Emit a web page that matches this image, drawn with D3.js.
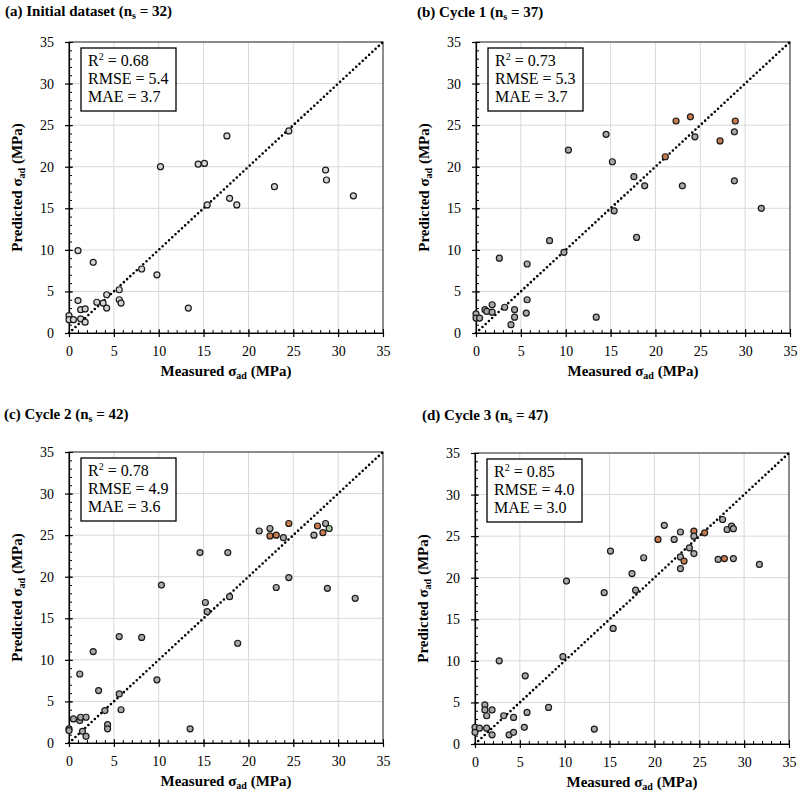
<!DOCTYPE html>
<html>
<head>
<meta charset="utf-8">
<script src="https://cdn.jsdelivr.net/npm/d3@7"></script>
<style>
  body { margin: 0; background: #fff; }
  svg text { font-family: "Liberation Serif", "DejaVu Serif", serif; }
</style>
</head>
<body>
<div id="chart"></div>
<script>
// Panel (a) – initial dataset
const aMeasured = [1.0, 2.7, 8.1, 9.8, 5.6, 5.6, 5.8, 4.2, 4.2, 3.8, 3.1, 1.0, 1.3, 1.8, 1.3, 1.8, 0, 0, 0.5, 13.3, 10.2, 14.4, 15.1, 17.6, 24.5, 15.4, 17.9, 18.7, 22.9, 28.6, 28.7, 31.7];
const aPredicted = [9.9, 8.5, 7.7, 7.0, 5.2, 4.0, 3.6, 4.6, 3.0, 3.6, 3.7, 3.9, 2.8, 2.9, 1.7, 1.3, 2.1, 1.6, 1.6, 3.0, 20.0, 20.3, 20.4, 23.7, 24.3, 15.4, 16.2, 15.4, 17.6, 19.6, 18.4, 16.5];

// Panel (b) – cycle 1
const bMeasured = [0, 0, 0.4, 1.0, 1.2, 1.8, 1.8, 3.2, 3.9, 4.3, 4.3, 5.6, 5.7, 5.7, 2.6, 8.2, 9.8, 13.4, 10.3, 14.5, 15.2, 15.4, 17.6, 18.8, 17.9, 21.1, 22.3, 23.9, 24.4, 23.0, 27.2, 28.8, 28.9, 28.8, 31.8];
const bPredicted = [2.3, 1.8, 1.8, 2.8, 2.6, 2.5, 3.4, 3.1, 1.0, 2.8, 1.9, 2.4, 4.0, 8.3, 9.0, 11.1, 9.7, 1.9, 22.0, 23.9, 20.6, 14.7, 18.8, 17.7, 11.5, 21.2, 25.5, 26.0, 23.6, 17.7, 23.1, 24.2, 25.5, 18.3, 15.0];
const bNew = [25, 26, 27, 30, 32];

// Panel (c) – cycle 2
const cMeasured = [0, 0, 0.5, 1.2, 1.3, 1.9, 1.5, 1.9, 1.2, 2.7, 3.3, 4.0, 4.3, 4.3, 5.6, 5.8, 5.6, 8.1, 9.8, 13.5, 10.3, 14.6, 15.2, 15.4, 17.7, 17.9, 18.8, 21.2, 22.4, 22.4, 23.1, 23.9, 24.5, 24.5, 23.1, 27.3, 27.7, 28.3, 28.6, 29.0, 28.8, 31.9];
const cPredicted = [1.7, 1.5, 2.9, 2.7, 3.1, 3.1, 1.4, 0.8, 8.3, 11.0, 6.3, 3.9, 2.2, 1.7, 5.9, 4.0, 12.8, 12.7, 7.6, 1.7, 19.0, 22.9, 16.9, 15.8, 22.9, 17.6, 12.0, 25.5, 25.8, 24.9, 25.0, 24.7, 26.4, 19.9, 18.7, 25.0, 26.1, 25.3, 26.4, 25.8, 18.6, 17.4];
const cNew = [29, 30, 32, 36, 37];
const cOther = [39];

// Panel (d) – cycle 3
const dMeasured = [0, 0, 0.5, 1.1, 1.1, 1.3, 1.3, 1.9, 1.9, 2.7, 3.2, 3.8, 4.3, 4.3, 5.5, 5.8, 5.6, 8.2, 9.8, 13.3, 10.2, 14.4, 15.1, 15.4, 17.5, 17.9, 18.8, 20.4, 21.1, 22.2, 22.9, 22.9, 22.9, 23.3, 23.9, 24.4, 24.4, 24.4, 25.6, 27.1, 27.8, 27.6, 28.1, 28.6, 28.8, 28.8, 31.7];
const dPredicted = [2.0, 1.4, 1.9, 4.7, 4.1, 3.4, 1.9, 4.1, 1.1, 10.0, 3.4, 1.1, 1.4, 3.2, 2.0, 3.8, 8.2, 4.4, 10.5, 1.8, 19.6, 18.2, 23.2, 13.9, 20.5, 18.5, 22.4, 24.6, 26.3, 24.6, 25.5, 22.5, 21.1, 22.0, 23.6, 25.6, 25.0, 22.9, 25.4, 22.2, 22.3, 27.0, 25.8, 26.2, 25.9, 22.3, 21.6];
const dNew = [27, 33, 35, 38, 40];

// Titles and metrics
const panelLetters = ["(a) Initial dataset", "(b) Cycle 1", "(c) Cycle 2", "(d) Cycle 3"];
const sampleCounts = [32, 37, 42, 47];
const r2Values = ["0.68", "0.73", "0.78", "0.85"];
const rmseValues = ["5.4", "5.3", "4.9", "4.0"];
const maeValues = ["3.7", "3.7", "3.6", "3.0"];
const tickValues = [0, 5, 10, 15, 20, 25, 30, 35];

const WIDTH = 800;
const HEIGHT = 791;
const PLOT_W = 314;
const PLOT_H = 291;
const FONT = "Liberation Serif, DejaVu Serif, serif";

const svg = d3
  .select("#chart")
  .append("svg")
  .attr("width", WIDTH)
  .attr("height", HEIGHT)
  .attr("font-family", FONT);

// Layout of the four panels
const panels = [
  { left: 69, top: 42, titleX: 5, titleY: 16, xs: aMeasured, ys: aPredicted, orange: [], green: [], fill: "#d4d4d4" },
  { left: 476, top: 42, titleX: 417, titleY: 17, xs: bMeasured, ys: bPredicted, orange: bNew, green: [], fill: "#a9a9a9" },
  { left: 69, top: 452, titleX: 4, titleY: 419, xs: cMeasured, ys: cPredicted, orange: cNew, green: cOther, fill: "#a9a9a9" },
  { left: 475, top: 453, titleX: 422, titleY: 420, xs: dMeasured, ys: dPredicted, orange: dNew, green: [], fill: "#a9a9a9" },
];

function drawPanel(p, i) {
  const x = d3.scaleLinear().domain([0, 35]).range([p.left, p.left + PLOT_W]);
  const y = d3.scaleLinear().domain([0, 35]).range([p.top + PLOT_H, p.top]);
  const g = svg.append("g");

  // title
  const title = g
    .append("text")
    .attr("x", p.titleX)
    .attr("y", p.titleY)
    .attr("font-family", FONT)
    .attr("font-size", 15)
    .attr("font-weight", "bold");
  title.append("tspan").text(panelLetters[i] + " (n");
  title.append("tspan").attr("font-size", 10).attr("dy", 3).text("s");
  title.append("tspan").attr("dy", -3).text(" = " + sampleCounts[i] + ")");

  // grid
  const inner = tickValues.slice(1, -1);
  g.selectAll(".vgrid")
    .data(inner)
    .enter()
    .append("line")
    .attr("x1", (d) => x(d))
    .attr("x2", (d) => x(d))
    .attr("y1", y(0))
    .attr("y2", y(35))
    .attr("stroke", "#d9d9d9")
    .attr("stroke-width", 1);
  g.selectAll(".hgrid")
    .data(inner)
    .enter()
    .append("line")
    .attr("x1", x(0))
    .attr("x2", x(35))
    .attr("y1", (d) => y(d))
    .attr("y2", (d) => y(d))
    .attr("stroke", "#d9d9d9")
    .attr("stroke-width", 1);

  // frame
  g.append("rect")
    .attr("x", x(0))
    .attr("y", y(35))
    .attr("width", PLOT_W)
    .attr("height", PLOT_H)
    .attr("fill", "none")
    .attr("stroke", "#404040")
    .attr("stroke-width", 1.2);

  // minor ticks (inside)
  const minor = d3.range(0, 36);
  g.append("g")
    .attr("transform", `translate(0,${y(0)})`)
    .call(d3.axisBottom(x).tickValues(minor).tickSize(-3).tickFormat("").tickSizeOuter(0))
    .call((s) => s.select(".domain").remove());
  g.append("g")
    .attr("transform", `translate(${x(0)},0)`)
    .call(d3.axisLeft(y).tickValues(minor).tickSize(-3).tickFormat("").tickSizeOuter(0))
    .call((s) => s.select(".domain").remove());
  // major ticks inside part
  g.append("g")
    .attr("transform", `translate(0,${y(0)})`)
    .call(d3.axisBottom(x).tickValues(tickValues).tickSize(-4).tickFormat("").tickSizeOuter(0))
    .call((s) => s.select(".domain").remove());
  g.append("g")
    .attr("transform", `translate(${x(0)},0)`)
    .call(d3.axisLeft(y).tickValues(tickValues).tickSize(-4).tickFormat("").tickSizeOuter(0))
    .call((s) => s.select(".domain").remove());

  // main axes with labels
  const xAxis = g
    .append("g")
    .attr("transform", `translate(0,${y(0)})`)
    .call(d3.axisBottom(x).tickValues(tickValues).tickSize(4).tickPadding(9).tickSizeOuter(0));
  const yAxis = g
    .append("g")
    .attr("transform", `translate(${x(0)},0)`)
    .call(d3.axisLeft(y).tickValues(tickValues).tickSize(4).tickPadding(11).tickSizeOuter(0));
  [xAxis, yAxis].forEach((a) => {
    a.attr("font-family", FONT).attr("font-size", 14);
    a.selectAll("text").attr("fill", "#000");
    a.selectAll("line, path").attr("stroke", "#000").attr("stroke-width", 1.2);
  });
  g.selectAll(".tick line").attr("stroke", "#000");

  // 1:1 line
  g.append("line")
    .attr("x1", x(0))
    .attr("y1", y(0))
    .attr("x2", x(35))
    .attr("y2", y(35))
    .attr("stroke", "#000")
    .attr("stroke-width", 2.6)
    .attr("stroke-linecap", "round")
    .attr("stroke-dasharray", "0 4.4");

  // points
  const data = p.xs.map((v, k) => ({
    m: v,
    p: p.ys[k],
    color: p.orange.includes(k) ? "#c97c4e" : p.green.includes(k) ? "#a9c9a4" : p.fill,
  }));
  g.selectAll(".pt")
    .data(data)
    .enter()
    .append("circle")
    .attr("cx", (d) => x(d.m))
    .attr("cy", (d) => y(d.p))
    .attr("r", 3)
    .attr("fill", (d) => d.color)
    .attr("stroke", "#1a1a1a")
    .attr("stroke-width", 1.2);

  // metrics box
  const bx = x(0) + 12;
  const by = y(35) + 6;
  g.append("rect")
    .attr("x", bx)
    .attr("y", by)
    .attr("width", 95)
    .attr("height", 63)
    .attr("fill", "#fff")
    .attr("stroke", "#000")
    .attr("stroke-width", 1.3);
  const t1 = g.append("text").attr("x", bx + 7).attr("y", by + 18).attr("font-size", 16);
  t1.append("tspan").text("R");
  t1.append("tspan").attr("font-size", 10).attr("dy", -6).text("2");
  t1.append("tspan").attr("dy", 6).text(" = " + r2Values[i]);
  g.append("text").attr("x", bx + 7).attr("y", by + 36).attr("font-size", 16).text("RMSE = " + rmseValues[i]);
  g.append("text").attr("x", bx + 7).attr("y", by + 54).attr("font-size", 16).text("MAE = " + maeValues[i]);

  // axis titles
  const xl = g
    .append("text")
    .attr("x", (x(0) + x(35)) / 2)
    .attr("y", y(0) + 43)
    .attr("text-anchor", "middle")
    .attr("font-size", 15)
    .attr("font-weight", "bold");
  xl.append("tspan").text("Measured σ");
  xl.append("tspan").attr("font-size", 10).attr("dy", 3).text("ad");
  xl.append("tspan").attr("dy", -3).text(" (MPa)");

  const yl = g
    .append("text")
    .attr("transform", `translate(${x(0) - 47},${(y(0) + y(35)) / 2}) rotate(-90)`)
    .attr("text-anchor", "middle")
    .attr("font-size", 15)
    .attr("font-weight", "bold");
  yl.append("tspan").text("Predicted σ");
  yl.append("tspan").attr("font-size", 10).attr("dy", 3).text("ad");
  yl.append("tspan").attr("dy", -3).text(" (MPa)");
}

panels.forEach(drawPanel);
</script>
</body>
</html>
